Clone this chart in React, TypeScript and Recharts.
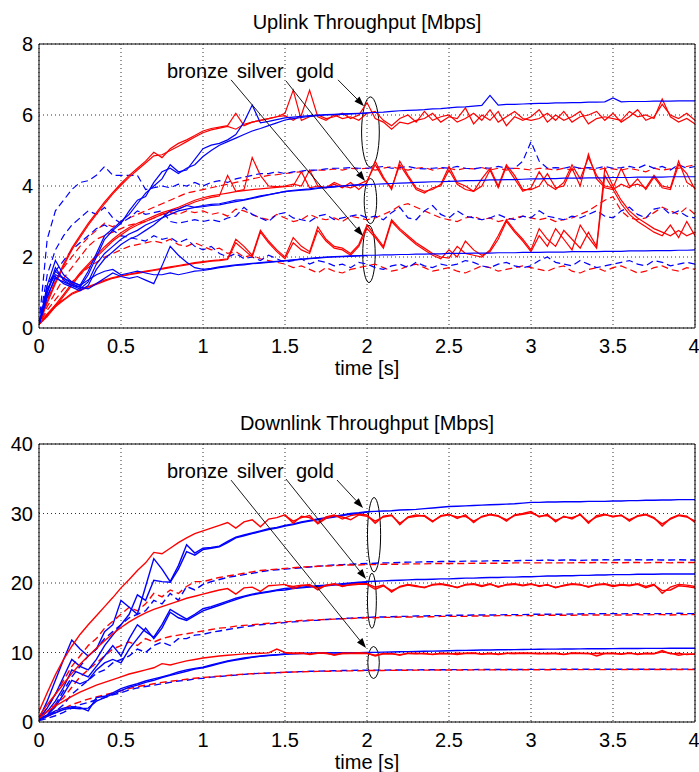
import React from 'react';
import { LineChart, Line, XAxis, YAxis, CartesianGrid, ReferenceArea, ReferenceLine } from 'recharts';

// sampling grid (s)
const TIME: number[] = Array.from({ length: 81 }, (_, i) => Math.round(i * 5) / 100);
const X_TICKS = [0, 0.5, 1, 1.5, 2, 2.5, 3, 3.5, 4];
const UL_Y_TICKS = [0, 2, 4, 6, 8];
const DL_Y_TICKS = [0, 10, 20, 30, 40];
const CLASS_LABELS = ['bronze', 'silver', 'gold'];

// ---------------- Uplink throughput [Mbps] ----------------
const ulGoldBlueA = [0.1, 1.2, 1.9, 1.5, 1.3, 1.2, 1.6, 2.1, 2.6, 2.8,
  3.0, 3.2, 3.5, 3.8, 4.0, 4.2, 4.6, 4.4, 4.45, 4.75,
  5.05, 5.15, 5.2, 5.3, 5.45, 5.8, 6.28, 5.78, 5.82, 5.87,
  5.92, 5.94, 5.96, 5.98, 6.0, 6.01, 6.02, 6.03, 6.04, 6.05,
  6.06, 6.07, 6.08, 6.1, 6.12, 6.13, 6.14, 6.15, 6.17, 6.18,
  6.2, 6.22, 6.23, 6.25, 6.27, 6.55, 6.28, 6.3, 6.3, 6.31,
  6.32, 6.33, 6.33, 6.34, 6.34, 6.35, 6.35, 6.36, 6.36, 6.37,
  6.48, 6.37, 6.38, 6.38, 6.38, 6.39, 6.39, 6.39, 6.4, 6.4,
  6.4];
const ulGoldBlueB = [0.1, 1.0, 1.6, 1.4, 1.25, 1.15, 1.5, 2.0, 2.5, 2.75,
  2.95, 3.3, 3.6, 3.7, 4.1, 4.4, 4.5, 4.35, 4.5, 4.6,
  4.83, 5.0, 5.15, 5.25, 5.35, 5.45, 5.55, 5.62, 5.7, 5.78,
  5.86, 5.9, 5.93, 5.96, 5.98, 6.0, 6.01, 6.02, 6.03, 6.04,
  6.05];
const ulGoldRedA = [0.1, 0.75, 1.3, 1.8, 2.25, 2.6, 2.95, 3.25, 3.55, 3.82,
  4.07, 4.3, 4.5, 4.7, 4.95, 4.8, 5.05, 5.2, 5.3, 5.42,
  5.55, 5.62, 5.66, 5.7, 6.05, 5.7, 5.8, 5.85, 5.9, 5.95,
  6.05, 6.7, 5.85, 5.95, 6.0, 5.9, 5.95, 6.05, 5.9, 6.0,
  6.35, 5.9, 5.8, 5.6, 5.8, 5.75, 5.85, 5.9, 6.05, 5.8,
  5.95, 5.9, 6.2, 5.75, 6.0, 5.85, 6.1, 5.7, 5.95, 5.85,
  5.95, 6.15, 5.8, 6.0, 5.85, 5.95, 6.1, 5.75, 5.9, 5.95,
  5.9, 5.85, 6.1, 5.95, 6.0, 5.9, 6.45, 5.95, 5.8, 5.9,
  5.75];
const ulGoldRedB = [0.1, 0.7, 1.25, 1.75, 2.2, 2.55, 2.9, 3.2, 3.5, 3.78,
  4.02, 4.25, 4.45, 4.65, 4.85, 4.88, 5.0, 5.12, 5.25, 5.38,
  5.5, 5.58, 5.63, 5.68, 5.6, 5.74, 5.8, 5.85, 5.9, 5.95,
  5.98, 5.85, 6.0, 6.7, 5.95, 5.85, 6.0, 5.9, 5.95, 5.85,
  6.05, 6.1, 5.85, 5.7, 5.9, 6.0, 5.8, 6.1, 5.85, 5.95,
  6.0, 5.8, 5.9, 6.05, 5.85, 6.15, 5.8, 5.95, 6.1, 5.9,
  5.85, 5.9, 6.05, 5.85, 6.1, 5.8, 5.95, 6.0, 6.1, 5.85,
  6.05, 5.8, 5.95, 6.15, 5.85, 5.95, 6.3, 6.0, 5.9, 6.05,
  5.85];
const ulGoldBlueDash = [0.1, 2.5, 3.3, 3.6, 3.9, 4.1, 4.15, 4.3, 4.55, 4.3,
  4.3, 4.3, 4.3, 3.9, 3.95, 4.0, 3.95, 4.05, 4.0, 4.1,
  4.0, 4.1, 4.15, 4.1, 4.2, 4.25, 4.3, 4.35, 4.35, 4.4,
  4.35, 4.4, 4.42, 4.45, 4.45, 4.48, 4.5, 4.5, 4.52, 4.5,
  4.5, 4.52, 4.55, 4.5, 4.52, 4.55, 4.5, 4.48, 4.5, 4.52,
  4.5, 4.55, 4.5, 4.48, 4.52, 4.5, 4.55, 4.5, 4.5, 4.7,
  5.25, 4.7, 4.5, 4.52, 4.5, 4.55, 4.5, 4.52, 4.5, 4.55,
  4.5, 4.52, 4.55, 4.5, 4.6, 4.5, 4.55, 4.45, 4.6, 4.5,
  4.55];
const ulGoldRedDash = [0.1, 0.8, 1.3, 1.7, 2.0, 2.3, 2.55, 2.75, 2.95, 2.85,
  3.0, 3.1, 3.2, 3.3, 3.4, 3.5, 3.6, 3.7, 3.8, 3.85,
  3.9, 3.95, 4.0, 4.05, 4.1, 4.15, 4.2, 4.25, 4.3, 4.32,
  4.35, 4.38, 4.4, 4.42, 4.45, 4.45, 4.48, 4.45, 4.5, 4.48,
  4.5, 4.45, 4.5, 4.55, 4.48, 4.45, 4.5, 4.52, 4.45, 4.5,
  4.5, 4.45, 4.5, 4.48, 4.52, 4.45, 4.5, 4.45, 4.5, 4.48,
  4.45, 4.5, 4.48, 4.45, 4.5, 4.45, 4.5, 4.48, 4.45, 4.5,
  4.48, 4.45, 4.5, 4.45, 4.4, 4.5, 4.45, 4.48, 4.5, 4.55,
  4.6];
const ulSilverBlueA = [0.1, 1.0, 1.7, 1.35, 1.2, 1.1, 1.3, 1.8, 2.1, 2.3,
  2.5, 2.65, 2.75, 2.9, 3.0, 3.1, 3.2, 3.3, 3.35, 3.4,
  3.42, 3.45, 3.47, 3.52, 3.56, 3.6, 3.65, 3.7, 3.75, 3.8,
  3.85, 3.88, 3.9, 3.92, 3.95, 3.97, 3.99, 4.0, 4.02, 4.03,
  4.04, 4.05, 4.06, 4.07, 4.08, 4.09, 4.1, 4.11, 4.12, 4.12,
  4.13, 4.14, 4.15, 4.15, 4.16, 4.17, 4.17, 4.18, 4.18, 4.19,
  4.2, 4.2, 4.21, 4.21, 4.22, 4.22, 4.22, 4.23, 4.23, 4.23,
  4.24, 4.24, 4.24, 4.25, 4.25, 4.25, 4.25, 4.26, 4.26, 4.26,
  4.26];
const ulSilverBlueB = [0.1, 0.85, 1.45, 1.25, 1.15, 1.05, 1.2, 1.65, 1.95, 2.15,
  2.35, 2.5, 2.6, 2.75, 2.9, 3.1, 3.3, 3.35, 3.45, 3.4,
  3.45, 3.48, 3.5, 3.55, 3.6, 3.62, 3.67, 3.72, 3.76, 3.8,
  3.84, 3.86, 3.88, 3.9, 3.93, 3.95, 3.97, 4.0, 4.02, 4.03,
  4.04];
const ulSilverRedA = [0.1, 0.35, 0.65, 0.95, 1.26, 1.55, 1.8, 2.05, 2.29, 2.5,
  2.68, 2.83, 2.95, 3.05, 3.15, 3.25, 3.32, 3.4, 3.5, 3.6,
  3.67, 3.72, 3.76, 3.8, 3.84, 3.87, 3.9, 3.92, 3.94, 3.96,
  3.98, 4.0, 4.4, 3.95, 4.0, 3.95, 4.05, 3.95, 4.1, 3.9,
  4.1, 4.7, 4.25, 3.9, 4.7, 4.3, 3.95, 3.85, 3.9, 4.05,
  4.55, 4.1, 4.0, 3.85, 4.2, 4.5, 4.0, 4.6, 4.3, 3.9,
  3.9, 4.0, 4.35, 3.95, 4.0, 4.5, 4.0, 4.9, 4.2, 3.95,
  3.9, 4.05, 3.95, 4.2, 3.9, 4.25, 3.95, 3.9, 4.6, 4.35,
  3.9];
const ulSilverRedB = [0.1, 0.32, 0.6, 0.9, 1.2, 1.5, 1.75, 2.0, 2.22, 2.45,
  2.62, 2.78, 2.9, 3.0, 3.1, 3.2, 3.28, 3.36, 3.45, 3.55,
  3.62, 3.68, 3.72, 4.3, 3.85, 3.9, 4.8, 4.3, 4.0, 3.98,
  4.0, 4.05, 4.0, 4.45, 4.0, 3.95, 4.1, 4.0, 3.95, 4.05,
  4.15, 4.6, 4.2, 3.95, 4.6, 4.25, 3.9, 3.8, 3.95, 4.0,
  4.45, 4.05, 3.9, 3.85, 4.0, 4.45, 3.95, 4.55, 4.2, 3.85,
  3.95, 4.4, 4.05, 3.9, 4.1, 4.6, 4.2, 4.8, 4.3, 4.0,
  3.95, 4.5, 4.0, 4.05, 3.95, 4.3, 4.0, 3.95, 4.7, 4.1,
  3.95];
const ulSilverBlueDash = [0.1, 1.5, 2.2, 2.6, 2.9, 3.1, 3.3, 3.2, 3.4, 3.1,
  2.95, 3.1, 3.3, 3.2, 3.25, 3.3, 3.0, 2.95, 3.0, 3.05,
  3.0, 3.05, 3.0, 3.1, 3.15, 3.4, 3.2, 3.1, 3.0, 3.2,
  3.25, 3.1, 3.05, 3.0, 3.15, 3.2, 3.05, 3.1, 3.15, 3.2,
  3.1, 3.15, 3.05, 3.25, 3.4, 3.1, 3.05, 3.3, 3.45, 3.2,
  3.1, 3.3, 3.15, 3.1, 3.05, 3.1, 3.2, 3.1, 3.05, 3.15,
  3.1, 3.3, 3.15, 3.1, 3.05, 3.15, 3.1, 3.2, 3.3, 3.15,
  3.1, 3.3, 3.4, 3.2, 3.1, 3.35, 3.4, 3.2, 3.3, 3.15,
  3.1];
const ulSilverRedDash = [0.1, 0.6, 1.0, 1.4, 1.7, 2.0, 2.3, 2.5, 2.6, 2.7,
  2.8, 2.9, 2.95, 3.0, 3.1, 3.2, 3.25, 3.2, 3.3, 3.25,
  3.3, 3.2, 3.25, 3.15, 3.35, 3.3, 3.2, 3.1, 3.05, 3.2,
  3.1, 3.0, 3.05, 3.2, 3.1, 3.05, 3.1, 3.0, 3.15, 3.1,
  3.05, 3.1, 3.2, 3.3, 3.45, 3.5, 3.4, 3.3, 3.2, 3.1,
  3.05, 3.0, 3.1, 3.15, 3.05, 3.1, 3.0, 3.05, 3.1, 3.15,
  3.1, 3.05, 3.1, 3.0, 3.05, 3.1, 3.2, 3.3, 3.45, 3.6,
  3.7, 3.3, 3.1, 3.05, 3.1, 3.25, 3.4, 3.3, 3.2, 3.4,
  3.2];
const ulBronzeBlueA = [0.1, 0.9, 1.4, 1.3, 1.2, 1.15, 1.1, 1.25, 1.4, 1.55,
  1.45, 1.4, 1.45, 1.35, 1.25, 1.75, 2.3, 2.05, 1.85, 1.7,
  1.65, 1.68, 1.72, 1.75, 1.78, 1.8, 1.82, 1.84, 1.86, 1.88,
  1.9, 1.92, 1.94, 1.96, 1.98, 2.0, 2.01, 2.02, 2.03, 2.04,
  2.05, 2.05, 2.06, 2.06, 2.07, 2.07, 2.08, 2.08, 2.09, 2.09,
  2.1, 2.1, 2.1, 2.11, 2.11, 2.11, 2.12, 2.12, 2.12, 2.13,
  2.13, 2.13, 2.14, 2.14, 2.14, 2.15, 2.15, 2.15, 2.15, 2.16,
  2.16, 2.16, 2.17, 2.17, 2.17, 2.18, 2.18, 2.18, 2.19, 2.19,
  2.2];
const ulBronzeBlueB = [0.1, 1.1, 1.5, 1.4, 1.3, 1.2, 1.35, 1.5, 1.6, 1.65,
  1.5, 1.55, 1.6, 1.55, 1.5, 1.5, 1.55, 1.5, 1.55, 1.6,
  1.62, 1.66, 1.7, 1.73, 1.76, 1.78, 1.81, 1.83, 1.85, 1.87,
  1.89, 1.91, 1.93, 1.95, 1.97, 1.99, 2.0, 2.01, 2.02, 2.03,
  2.04];
const ulBronzeRedA = [0.1, 0.4, 0.65, 0.8, 0.98, 1.08, 1.17, 1.25, 1.35, 1.42,
  1.47, 1.52, 1.56, 1.6, 1.64, 1.68, 1.72, 1.76, 1.8, 1.84,
  1.87, 1.9, 1.92, 1.95, 2.5, 2.3, 2.05, 2.75, 2.45, 2.2,
  2.0, 2.55, 2.3, 2.15, 2.85, 2.5, 2.3, 2.25, 2.1, 2.35,
  2.9, 2.6, 2.3, 3.05, 2.8, 2.6, 2.4, 2.25, 2.1, 2.0,
  1.97, 2.3, 2.1, 2.05, 2.0, 2.2, 2.6, 3.05, 2.75, 2.5,
  2.2, 2.8, 2.5, 2.3, 2.75, 2.5, 2.25, 2.7, 2.3, 4.5,
  4.0, 3.6, 3.3, 3.1, 2.95, 2.8, 2.7, 2.6, 2.75, 2.6,
  2.7];
const ulBronzeRedB = [0.1, 0.38, 0.6, 0.78, 0.95, 1.05, 1.15, 1.23, 1.32, 1.4,
  1.45, 1.5, 1.54, 1.58, 1.62, 1.66, 1.7, 1.74, 1.78, 1.82,
  1.85, 1.88, 1.9, 1.93, 2.4, 2.2, 2.0, 2.7, 2.4, 2.15,
  1.95, 2.4, 2.2, 2.1, 2.75, 2.45, 2.25, 2.2, 2.05, 2.3,
  2.8, 2.55, 2.25, 3.0, 2.75, 2.55, 2.35, 2.2, 2.05, 1.95,
  2.2, 2.0, 2.45, 2.2, 2.05, 2.15, 2.5, 3.0, 2.7, 2.45,
  2.15, 2.6, 2.3, 2.8, 2.5, 2.2, 2.9, 2.55, 2.25, 4.3,
  3.9, 3.5, 3.2, 3.0, 2.85, 2.7, 2.6, 2.9, 2.55, 3.0,
  2.6];
const ulBronzeBlueDash = [0.1, 1.2, 1.6, 1.9, 2.2, 2.4, 2.6, 2.8, 2.9, 2.75,
  2.6, 2.55, 2.5, 2.45, 2.6, 2.5, 2.55, 2.4, 2.5, 2.3,
  2.2, 2.3, 2.1, 2.0, 2.1, 1.95, 2.0, 1.9, 2.05, 1.95,
  1.85, 1.9, 1.95, 1.8, 1.9, 1.85, 1.75, 1.8, 1.7, 1.85,
  1.8, 1.7, 1.65, 1.75, 1.8, 1.7, 1.85, 1.75, 1.7, 1.8,
  1.75, 1.8, 1.9, 1.85, 1.75, 1.7, 1.8, 1.85, 1.75, 1.7,
  1.75, 1.9, 2.0, 1.85, 1.8, 1.75, 1.9, 1.8, 1.7, 1.75,
  1.8, 1.85, 1.9, 1.8, 1.75, 1.9, 1.85, 1.75, 1.8, 1.85,
  1.8];
const ulBronzeRedDash = [0.1, 0.5, 0.8, 1.1, 1.3, 1.5, 1.7, 1.85, 2.0, 2.1,
  2.2, 2.3, 2.35, 2.4, 2.45, 2.4, 2.5, 2.35, 2.3, 2.4,
  2.3, 2.2, 2.25, 2.1, 2.15, 2.0, 2.05, 1.95, 1.9, 1.85,
  1.8, 1.7, 1.75, 1.65, 1.55, 1.7, 1.6, 1.55, 1.65, 1.7,
  1.75, 1.8, 1.7, 1.6, 1.65, 1.75, 1.8, 1.7, 1.6, 1.65,
  1.7, 1.6, 1.55, 1.65, 1.75, 1.7, 1.6, 1.65, 1.7, 1.75,
  1.7, 1.65, 1.6, 1.7, 1.75, 1.6, 1.55, 1.65, 1.7, 1.6,
  1.7, 1.75, 1.65, 1.55, 1.6, 1.7, 1.75, 1.65, 1.6, 1.7,
  1.65];

// ---------------- Downlink throughput [Mbps] ----------------
const dlGoldBlueA = [0.5, 3.0, 6.0, 9.0, 11.8, 10.5, 9.5, 10.5, 13.0, 14.0,
  17.5, 16.5, 15.5, 19.5, 23.5, 22.0, 20.2, 22.5, 25.5, 24.3,
  25.0, 25.1, 25.3, 26.0, 26.6, 26.9, 27.2, 27.5, 27.8, 28.0,
  28.3, 28.5, 28.8, 29.0, 29.2, 29.4, 29.6, 29.8, 30.0, 30.1,
  30.25, 30.3, 30.35, 30.4, 30.5, 30.55, 30.6, 30.7, 30.8, 30.9,
  31.0, 31.05, 31.1, 31.15, 31.2, 31.25, 31.3, 31.35, 31.4, 31.5,
  31.6, 31.6, 31.65, 31.65, 31.7, 31.7, 31.7, 31.75, 31.75, 31.75,
  31.8, 31.8, 31.85, 31.85, 31.9, 31.9, 31.95, 31.95, 32.0, 32.0,
  32.0];
const dlGoldBlueB = [0.5, 2.0, 4.0, 6.5, 9.0, 8.0, 7.5, 9.0, 11.0, 12.5,
  14.0, 15.5, 18.3, 17.5, 20.4, 20.2, 20.1, 22.0, 24.5, 24.0,
  24.8, 25.0, 25.2, 25.8, 26.5, 26.8, 27.1, 27.4, 27.7, 27.9,
  28.2, 28.4, 28.7, 28.9, 29.1, 29.3, 29.5, 29.7, 29.9, 30.0,
  30.2];
const dlGoldRedA = [1.5, 4.2, 6.8, 9.0, 10.9, 12.6, 14.0, 15.3, 16.6, 17.9,
  19.3, 20.5, 21.8, 22.9, 24.4, 24.2, 25.0, 25.8, 26.5, 27.1,
  27.5, 27.9, 28.3, 28.7, 27.9, 28.8, 29.1, 28.1, 29.2, 29.4,
  29.8, 28.6, 29.6, 29.4, 28.7, 29.5, 29.8, 29.2, 29.7, 29.9,
  29.8, 28.6, 29.6, 29.8, 28.4, 29.5, 29.8, 29.6, 28.8, 29.7,
  29.9, 29.3, 29.8, 28.7, 29.6, 29.9, 29.7, 28.9, 29.8, 30.0,
  30.3, 29.5, 29.9, 28.8, 29.6, 29.2, 29.9, 28.6, 29.7, 29.9,
  29.5, 29.8, 28.9, 29.7, 29.9, 29.4, 28.2, 29.3, 29.8, 29.6,
  28.7];
// second run, from t = 1.5 s
const dlGoldRedB = [29.7, 28.9, 29.4, 29.7, 28.5, 29.3, 29.7, 29.5, 29.1, 29.8,
  29.6, 28.9, 29.5, 29.7, 28.6, 29.4, 29.6, 29.7, 28.9, 29.6,
  29.8, 29.5, 29.6, 28.9, 29.5, 29.8, 29.6, 29.1, 29.7, 29.9,
  30.1, 29.6, 29.7, 29.0, 29.5, 29.4, 29.8, 28.8, 29.5, 29.8,
  29.6, 29.7, 29.1, 29.6, 29.8, 29.3, 28.5, 29.2, 29.7, 29.5,
  28.9];
const dlGoldBlueDash = [0.3, 1.0, 2.5, 4.5, 6.5, 8.0, 9.5, 10.5, 12.0, 13.0,
  14.0, 15.0, 15.5, 16.0, 17.5, 17.0, 18.5, 17.5, 19.5, 19.0,
  19.8, 20.2, 20.5, 20.8, 21.0, 21.2, 21.4, 21.6, 21.8, 21.9,
  22.0, 22.1, 22.2, 22.3, 22.4, 22.5, 22.6, 22.65, 22.7, 22.75,
  22.8, 22.85, 22.9, 22.9, 22.95, 23.0, 23.0, 23.05, 23.05, 23.1,
  23.1, 23.1, 23.15, 23.15, 23.15, 23.2, 23.2, 23.2, 23.2, 23.25,
  23.25, 23.25, 23.3, 23.25, 23.3, 23.3, 23.25, 23.3, 23.3, 23.35,
  23.3, 23.35, 23.3, 23.35, 23.3, 23.35, 23.3, 23.3, 23.35, 23.3,
  23.3];
const dlGoldRedDash = [0.5, 2.0, 4.0, 6.0, 8.0, 9.5, 11.0, 12.0, 13.5, 14.5,
  15.5, 16.5, 16.0, 17.0, 18.5, 18.0, 19.0, 18.5, 19.5, 20.2,
  20.2, 20.5, 20.8, 21.0, 21.2, 21.4, 21.6, 21.8, 21.9, 22.0,
  22.1, 22.2, 22.3, 22.35, 22.4, 22.45, 22.5, 22.55, 22.6, 22.6,
  22.65, 22.65, 22.7, 22.7, 22.7, 22.75, 22.75, 22.75, 22.8, 22.8,
  22.8, 22.8, 22.8, 22.85, 22.85, 22.85, 22.85, 22.85, 22.9, 22.9,
  22.9, 22.9, 22.9, 22.9, 22.9, 22.9, 22.95, 22.9, 22.95, 22.9,
  22.95, 22.9, 22.95, 22.95, 22.9, 22.95, 22.95, 22.9, 22.95, 22.95,
  22.95];
const dlSilverBlueA = [0.5, 1.5, 3.0, 5.0, 7.5, 7.0, 6.5, 8.0, 9.5, 11.0,
  9.5, 12.0, 14.0, 13.0, 12.2, 14.0, 16.2, 15.5, 14.8, 15.5,
  16.3, 16.6, 17.0, 17.4, 17.8, 18.1, 18.4, 18.6, 18.8, 19.0,
  19.2, 19.3, 19.4, 19.5, 19.6, 19.7, 19.8, 19.9, 20.0, 20.1,
  20.2, 20.25, 20.3, 20.35, 20.4, 20.45, 20.5, 20.5, 20.55, 20.6,
  20.6, 20.65, 20.7, 20.7, 20.75, 20.8, 20.8, 20.85, 20.85, 20.9,
  20.9, 20.95, 21.0, 21.0, 21.05, 21.05, 21.1, 21.1, 21.15, 21.15,
  21.2, 21.2, 21.2, 21.25, 21.25, 21.25, 21.3, 21.3, 21.3, 21.3,
  21.3];
const dlSilverBlueB = [0.5, 1.0, 2.2, 4.0, 6.0, 5.5, 6.0, 7.5, 8.5, 9.0,
  8.5, 10.5, 12.0, 13.5, 12.0, 13.5, 15.8, 15.0, 14.6, 15.3,
  16.0, 16.4, 16.8, 17.2, 17.6, 18.0, 18.3, 18.5, 18.7, 18.9,
  19.0, 19.2, 19.3, 19.4, 19.5, 19.6, 19.7, 19.8, 19.9, 20.0,
  20.1];
const dlSilverRedA = [0.8, 2.5, 4.0, 5.5, 7.0, 8.3, 9.5, 10.6, 11.7, 12.7,
  13.6, 14.4, 15.1, 15.7, 16.2, 16.6, 17.0, 17.4, 17.8, 18.1,
  18.4, 18.7, 19.0, 19.2, 18.4, 19.3, 19.4, 18.8, 19.6, 19.7,
  19.8, 19.2, 19.6, 19.8, 19.0, 19.7, 19.9, 19.5, 19.8, 19.9,
  19.9, 19.4, 19.7, 18.7, 19.5, 19.8, 19.6, 19.3, 19.8, 19.9,
  19.7, 19.3, 19.8, 19.9, 19.6, 19.9, 19.4, 19.8, 19.9, 19.7,
  19.9, 19.5, 19.8, 19.3, 19.7, 19.9, 19.8, 19.4, 19.8, 19.9,
  19.6, 19.8, 19.7, 19.9, 19.5, 19.8, 18.5, 19.4, 19.8, 19.7,
  19.5];
// second run, from t = 1.5 s
const dlSilverRedB = [19.7, 19.5, 19.7, 19.6, 19.3, 19.6, 19.8, 19.6, 19.7, 19.8,
  19.8, 19.1, 19.6, 18.9, 19.4, 19.7, 19.5, 19.4, 19.7, 19.8,
  19.6, 19.4, 19.7, 19.8, 19.5, 19.8, 19.5, 19.7, 19.8, 19.6,
  19.8, 19.6, 19.7, 19.4, 19.6, 19.8, 19.7, 19.5, 19.7, 19.8,
  19.5, 19.7, 19.6, 19.8, 19.3, 19.7, 18.9, 19.0, 19.6, 19.5,
  19.3];
const dlSilverBlueDash = [0.3, 0.8, 1.5, 2.5, 4.0, 5.0, 6.0, 7.0, 7.5, 8.5,
  9.0, 9.5, 10.5, 10.0, 11.0, 11.5, 11.0, 12.0, 12.0, 12.5,
  12.6, 12.9, 13.1, 13.3, 13.5, 13.7, 13.85, 14.0, 14.1, 14.2,
  14.3, 14.4, 14.5, 14.6, 14.65, 14.75, 14.8, 14.9, 14.95, 15.0,
  15.05, 15.1, 15.1, 15.15, 15.2, 15.2, 15.25, 15.25, 15.3, 15.3,
  15.35, 15.35, 15.35, 15.4, 15.4, 15.4, 15.4, 15.45, 15.45, 15.45,
  15.5, 15.5, 15.5, 15.5, 15.5, 15.55, 15.55, 15.6, 15.55, 15.6,
  15.6, 15.55, 15.6, 15.6, 15.6, 15.6, 15.6, 15.6, 15.65, 15.6,
  15.6];
const dlSilverRedDash = [0.5, 1.5, 2.5, 3.5, 5.0, 6.5, 7.5, 8.5, 9.5, 10.5,
  11.0, 11.5, 11.0, 12.0, 11.5, 12.0, 12.3, 12.5, 12.7, 12.9,
  13.1, 13.3, 13.5, 13.6, 13.8, 13.9, 14.0, 14.1, 14.2, 14.3,
  14.4, 14.5, 14.6, 14.65, 14.7, 14.75, 14.8, 14.85, 14.9, 14.95,
  15.0, 15.0, 15.05, 15.05, 15.1, 15.1, 15.1, 15.15, 15.15, 15.2,
  15.2, 15.2, 15.2, 15.25, 15.25, 15.25, 15.3, 15.3, 15.3, 15.3,
  15.3, 15.35, 15.35, 15.35, 15.35, 15.35, 15.4, 15.4, 15.4, 15.4,
  15.4, 15.4, 15.4, 15.45, 15.4, 15.45, 15.45, 15.4, 15.45, 15.45,
  15.45];
const dlBronzeBlueA = [0.3, 1.0, 1.6, 2.0, 2.2, 2.1, 1.6, 3.5, 3.7, 4.2,
  4.8, 5.2, 5.5, 5.9, 6.2, 6.5, 6.8, 7.2, 7.5, 7.7,
  7.9, 8.2, 8.5, 8.8, 9.0, 9.2, 9.35, 9.5, 9.6, 9.7,
  9.8, 9.85, 9.88, 9.9, 9.92, 9.94, 9.95, 9.96, 9.97, 9.98,
  10.0, 10.02, 10.05, 10.08, 10.1, 10.12, 10.15, 10.18, 10.2, 10.22,
  10.25, 10.28, 10.3, 10.32, 10.35, 10.37, 10.39, 10.4, 10.42, 10.44,
  10.45, 10.46, 10.48, 10.49, 10.5, 10.51, 10.52, 10.53, 10.54, 10.55,
  10.56, 10.57, 10.58, 10.58, 10.59, 10.6, 10.6, 10.61, 10.61, 10.62,
  10.62];
const dlBronzeBlueB = [0.3, 0.8, 1.3, 1.8, 2.0, 1.9, 2.0, 3.0, 3.5, 4.0,
  4.5, 5.0, 5.3, 5.7, 6.0, 6.4, 6.7, 7.0, 7.3, 7.6,
  7.8, 8.1, 8.4, 8.7, 8.9, 9.1, 9.3, 9.45, 9.55, 9.65,
  9.75, 9.8, 9.85, 9.88, 9.9, 9.92, 9.94, 9.95, 9.96, 9.97,
  9.98];
const dlBronzeRedA = [0.5, 1.5, 2.3, 3.0, 3.7, 4.3, 4.8, 5.3, 5.7, 6.1,
  6.5, 6.9, 7.2, 7.5, 7.8, 8.4, 8.2, 8.5, 8.8, 9.0,
  9.2, 9.35, 9.5, 9.6, 9.7, 9.8, 9.85, 9.9, 9.95, 10.5,
  10.0, 9.9, 9.95, 9.7, 9.9, 9.95, 9.6, 9.85, 9.9, 9.95,
  9.9, 9.5, 9.8, 9.85, 9.6, 9.9, 9.8, 9.9, 9.7, 9.9,
  9.85, 9.7, 9.9, 9.95, 9.8, 9.9, 9.7, 9.9, 9.85, 9.95,
  9.9, 9.8, 9.9, 9.85, 9.7, 9.95, 9.9, 9.8, 9.9, 9.85,
  9.9, 9.8, 9.95, 9.7, 9.9, 9.85, 10.3, 9.8, 9.9, 9.7,
  9.8];
// second run, from t = 1.5 s
const dlBronzeRedB = [9.95, 9.85, 9.9, 9.8, 9.95, 9.85, 9.7, 9.9, 9.85, 9.9,
  9.85, 9.6, 9.85, 9.8, 9.7, 9.85, 9.9, 9.8, 9.75, 9.85,
  9.8, 9.9, 9.85, 9.9, 9.75, 9.85, 9.8, 9.85, 9.9, 9.85,
  9.85, 9.9, 9.8, 9.9, 9.75, 9.9, 9.85, 9.9, 9.5, 9.85,
  9.85, 9.75, 9.9, 9.8, 9.85, 9.8, 10.1, 9.9, 9.6, 9.8,
  9.75];
const dlBronzeBlueDash = [0.2, 0.5, 0.9, 1.4, 2.0, 2.5, 2.8, 3.2, 3.5, 3.9,
  4.2, 4.6, 4.9, 5.1, 5.3, 5.5, 5.7, 5.9, 6.0, 6.2,
  6.3, 6.45, 6.55, 6.65, 6.75, 6.85, 6.95, 7.0, 7.05, 7.1,
  7.15, 7.2, 7.25, 7.3, 7.32, 7.35, 7.38, 7.4, 7.42, 7.44,
  7.45, 7.46, 7.47, 7.48, 7.49, 7.5, 7.5, 7.51, 7.52, 7.52,
  7.53, 7.53, 7.54, 7.54, 7.55, 7.55, 7.55, 7.56, 7.56, 7.56,
  7.57, 7.57, 7.57, 7.58, 7.58, 7.58, 7.58, 7.59, 7.59, 7.59,
  7.59, 7.6, 7.6, 7.6, 7.6, 7.6, 7.6, 7.61, 7.61, 7.61,
  7.61];
const dlBronzeRedDash = [0.3, 0.8, 1.3, 1.9, 2.5, 2.9, 3.3, 3.6, 3.9, 4.2,
  4.5, 4.8, 5.1, 5.3, 5.5, 5.7, 5.85, 6.0, 6.15, 6.3,
  6.4, 6.5, 6.6, 6.7, 6.8, 6.9, 6.95, 7.0, 7.05, 7.1,
  7.15, 7.2, 7.22, 7.25, 7.28, 7.3, 7.32, 7.34, 7.36, 7.38,
  7.4, 7.41, 7.42, 7.43, 7.44, 7.45, 7.46, 7.47, 7.47, 7.48,
  7.48, 7.49, 7.49, 7.5, 7.5, 7.5, 7.51, 7.51, 7.51, 7.52,
  7.52, 7.52, 7.52, 7.53, 7.53, 7.53, 7.53, 7.54, 7.54, 7.54,
  7.54, 7.54, 7.55, 7.55, 7.55, 7.55, 7.55, 7.55, 7.56, 7.56,
  7.56];

const BLUE = '#0000ff';
const RED = '#ff0000';

type Series = { key: string; values: number[]; start: number; color: string; dashed: boolean };
const S = (key: string, values: number[], color: string, dashed: boolean, start = 0): Series => ({ key, values, start, color, dashed });

const UL_SERIES: Series[] = [
  S('ulGoldRedDash', ulGoldRedDash, RED, true),
  S('ulSilverRedDash', ulSilverRedDash, RED, true),
  S('ulBronzeRedDash', ulBronzeRedDash, RED, true),
  S('ulGoldBlueDash', ulGoldBlueDash, BLUE, true),
  S('ulSilverBlueDash', ulSilverBlueDash, BLUE, true),
  S('ulBronzeBlueDash', ulBronzeBlueDash, BLUE, true),
  S('ulGoldRedA', ulGoldRedA, RED, false),
  S('ulGoldRedB', ulGoldRedB, RED, false),
  S('ulSilverRedA', ulSilverRedA, RED, false),
  S('ulSilverRedB', ulSilverRedB, RED, false),
  S('ulBronzeRedA', ulBronzeRedA, RED, false),
  S('ulBronzeRedB', ulBronzeRedB, RED, false),
  S('ulGoldBlueA', ulGoldBlueA, BLUE, false),
  S('ulGoldBlueB', ulGoldBlueB, BLUE, false),
  S('ulSilverBlueA', ulSilverBlueA, BLUE, false),
  S('ulSilverBlueB', ulSilverBlueB, BLUE, false),
  S('ulBronzeBlueA', ulBronzeBlueA, BLUE, false),
  S('ulBronzeBlueB', ulBronzeBlueB, BLUE, false),
];

const DL_SERIES: Series[] = [
  S('dlGoldBlueDash', dlGoldBlueDash, BLUE, true),
  S('dlSilverBlueDash', dlSilverBlueDash, BLUE, true),
  S('dlBronzeBlueDash', dlBronzeBlueDash, BLUE, true),
  S('dlGoldRedDash', dlGoldRedDash, RED, true),
  S('dlSilverRedDash', dlSilverRedDash, RED, true),
  S('dlBronzeRedDash', dlBronzeRedDash, RED, true),
  S('dlGoldBlueA', dlGoldBlueA, BLUE, false),
  S('dlGoldBlueB', dlGoldBlueB, BLUE, false),
  S('dlSilverBlueA', dlSilverBlueA, BLUE, false),
  S('dlSilverBlueB', dlSilverBlueB, BLUE, false),
  S('dlBronzeBlueA', dlBronzeBlueA, BLUE, false),
  S('dlBronzeBlueB', dlBronzeBlueB, BLUE, false),
  S('dlGoldRedA', dlGoldRedA, RED, false),
  S('dlGoldRedB', dlGoldRedB, RED, false, 30),
  S('dlSilverRedA', dlSilverRedA, RED, false),
  S('dlSilverRedB', dlSilverRedB, RED, false, 30),
  S('dlBronzeRedA', dlBronzeRedA, RED, false),
  S('dlBronzeRedB', dlBronzeRedB, RED, false, 30),
];

function buildRows(series: Series[]) {
  return TIME.map((t, i) => {
    const row: Record<string, number> = { t };
    series.forEach((s) => {
      const j = i - s.start;
      if (j >= 0 && j < s.values.length) row[s.key] = s.values[j];
    });
    return row;
  });
}

// annotation marks, in data coordinates
const UL_ELLIPSES = [
  { x1: 1.967, x2: 2.075, y1: 4.53, y2: 6.51 },
  { x1: 1.983, x2: 2.059, y1: 2.94, y2: 4.21 },
  { x1: 1.974, x2: 2.05, y1: 1.28, y2: 2.89 },
];
const UL_ARROWS = [
  [{ x: 1.171, y: 6.99 }, { x: 1.976, y: 2.59 }],
  [{ x: 1.506, y: 6.96 }, { x: 1.988, y: 4.14 }],
  [{ x: 1.823, y: 6.99 }, { x: 1.982, y: 6.25 }],
];
const DL_ELLIPSES = [
  { x1: 2.003, x2: 2.083, y1: 21.6, y2: 32.3 },
  { x1: 2.003, x2: 2.057, y1: 13.5, y2: 21.4 },
  { x1: 2.005, x2: 2.075, y1: 6.26, y2: 10.86 },
];
const DL_ARROWS = [
  [{ x: 1.171, y: 34.8 }, { x: 1.994, y: 10.65 }],
  [{ x: 1.506, y: 34.96 }, { x: 1.994, y: 20.58 }],
  [{ x: 1.817, y: 34.82 }, { x: 1.976, y: 30.79 }],
];

const FONT = '"Liberation Sans", Arial, Helvetica, sans-serif';

const arrowShape = (p: any) => {
  const { x1, y1, x2, y2 } = p;
  const ang = Math.atan2(y2 - y1, x2 - x1);
  const L = 10;
  const W = 3.5;
  const bx = x2 - L * Math.cos(ang);
  const by = y2 - L * Math.sin(ang);
  const px = -Math.sin(ang) * W;
  const py = Math.cos(ang) * W;
  return (
    <g>
      <line x1={x1} y1={y1} x2={bx} y2={by} stroke="#000" strokeWidth={0.9} />
      <polygon points={`${x2},${y2} ${bx + px},${by + py} ${bx - px},${by - py}`} fill="#000" />
    </g>
  );
};

const ellipseShape = (p: any) => (
  <ellipse
    cx={p.x + p.width / 2}
    cy={p.y + p.height / 2}
    rx={Math.abs(p.width) / 2}
    ry={Math.abs(p.height) / 2}
    fill="none"
    stroke="#000"
    strokeWidth={1}
  />
);

type PanelProps = {
  series: Series[];
  yMax: number;
  yTicks: number[];
  height: number;
  bottom: number;
  ellipses: { x1: number; x2: number; y1: number; y2: number }[];
  arrows: { x: number; y: number }[][];
  sw: number;
};

function Panel({ series, yMax, yTicks, height, bottom, ellipses, arrows, sw }: PanelProps) {
  const rows = buildRows(series);
  const dom: [number, number] = [0, yMax];
  return (
    <LineChart width={699} height={height} data={rows} margin={{ top: 44, right: 4, bottom, left: 0 }}>
      <CartesianGrid stroke="#333" strokeDasharray="1 3" strokeWidth={1} />
      <XAxis
        dataKey="t"
        type="number"
        domain={[0, 4]}
        ticks={X_TICKS}
        allowDataOverflow
        height={47}
        tickLine={false}
        tickSize={9}
        tickMargin={2}
        stroke="#000"
        tick={{ fill: '#000', fontSize: 20 }}
        label={{ value: 'time [s]', position: 'insideBottom', offset: 0, fill: '#000', fontSize: 20 }}
      />
      <YAxis
        type="number"
        domain={dom}
        ticks={yTicks}
        allowDataOverflow
        width={39}
        tickLine={false}
        tickSize={4}
        tickMargin={2}
        stroke="#000"
        tick={{ fill: '#000', fontSize: 20 }}
      />
      <XAxis xAxisId="top" orientation="top" mirror dataKey="t" type="number" domain={[0, 4]} ticks={X_TICKS} allowDataOverflow tick={false} tickSize={5} stroke="#000" />
      <XAxis xAxisId="bin" orientation="bottom" mirror dataKey="t" type="number" domain={[0, 4]} ticks={X_TICKS} allowDataOverflow tick={false} tickSize={5} axisLine={false} stroke="#000" />
      <YAxis yAxisId="right" orientation="right" mirror type="number" domain={dom} ticks={yTicks} allowDataOverflow tick={false} tickSize={5} stroke="#000" />
      <YAxis yAxisId="lin" orientation="left" mirror type="number" domain={dom} ticks={yTicks} allowDataOverflow tick={false} tickSize={5} axisLine={false} stroke="#000" />
      {series.map((s) => (
        <Line
          key={s.key}
          dataKey={s.key}
          type="linear"
          stroke={s.color}
          strokeWidth={sw}
          strokeDasharray={s.dashed ? '7 4' : undefined}
          strokeDashoffset={s.dashed && s.color === RED ? 5 : 0}
          dot={false}
          activeDot={false}
          isAnimationActive={false}
          connectNulls={false}
        />
      ))}
      {ellipses.map((e, i) => (
        <ReferenceArea key={`e${i}`} x1={e.x1} x2={e.x2} y1={e.y1} y2={e.y2} shape={ellipseShape} />
      ))}
      {arrows.map((a, i) => (
        <ReferenceLine key={`a${i}`} segment={a} shape={arrowShape} />
      ))}
    </LineChart>
  );
}

const textStyle: React.CSSProperties = { position: 'absolute', fontSize: 20, color: '#000', whiteSpace: 'nowrap', lineHeight: 'normal' };
const LABEL_LEFT = [167, 237, 296];

export default function App() {
  return (
    <div style={{ position: 'absolute', left: 0, top: 0, width: 699, height: 772, background: '#fff', fontFamily: FONT }}>
      <div style={{ position: 'absolute', left: 0, top: 0 }}>
        <Panel series={UL_SERIES} yMax={8} yTicks={UL_Y_TICKS} height={395} bottom={20} ellipses={UL_ELLIPSES} arrows={UL_ARROWS} sw={1.2} />
      </div>
      <div style={{ position: 'absolute', left: 0, top: 400 }}>
        <Panel series={DL_SERIES} yMax={40} yTicks={DL_Y_TICKS} height={372} bottom={3} ellipses={DL_ELLIPSES} arrows={DL_ARROWS} sw={1.4} />
      </div>
      <div style={{ ...textStyle, left: 39, width: 656, textAlign: 'center', top: 11 }}>Uplink Throughput [Mbps]</div>
      <div style={{ ...textStyle, left: 39, width: 656, textAlign: 'center', top: 412 }}>Downlink Throughput [Mbps]</div>
      {CLASS_LABELS.map((c, i) => (
        <div key={`u${c}`} style={{ ...textStyle, left: LABEL_LEFT[i], top: 60 }}>{c}</div>
      ))}
      {CLASS_LABELS.map((c, i) => (
        <div key={`d${c}`} style={{ ...textStyle, left: LABEL_LEFT[i], top: 460 }}>{c}</div>
      ))}
    </div>
  );
}
